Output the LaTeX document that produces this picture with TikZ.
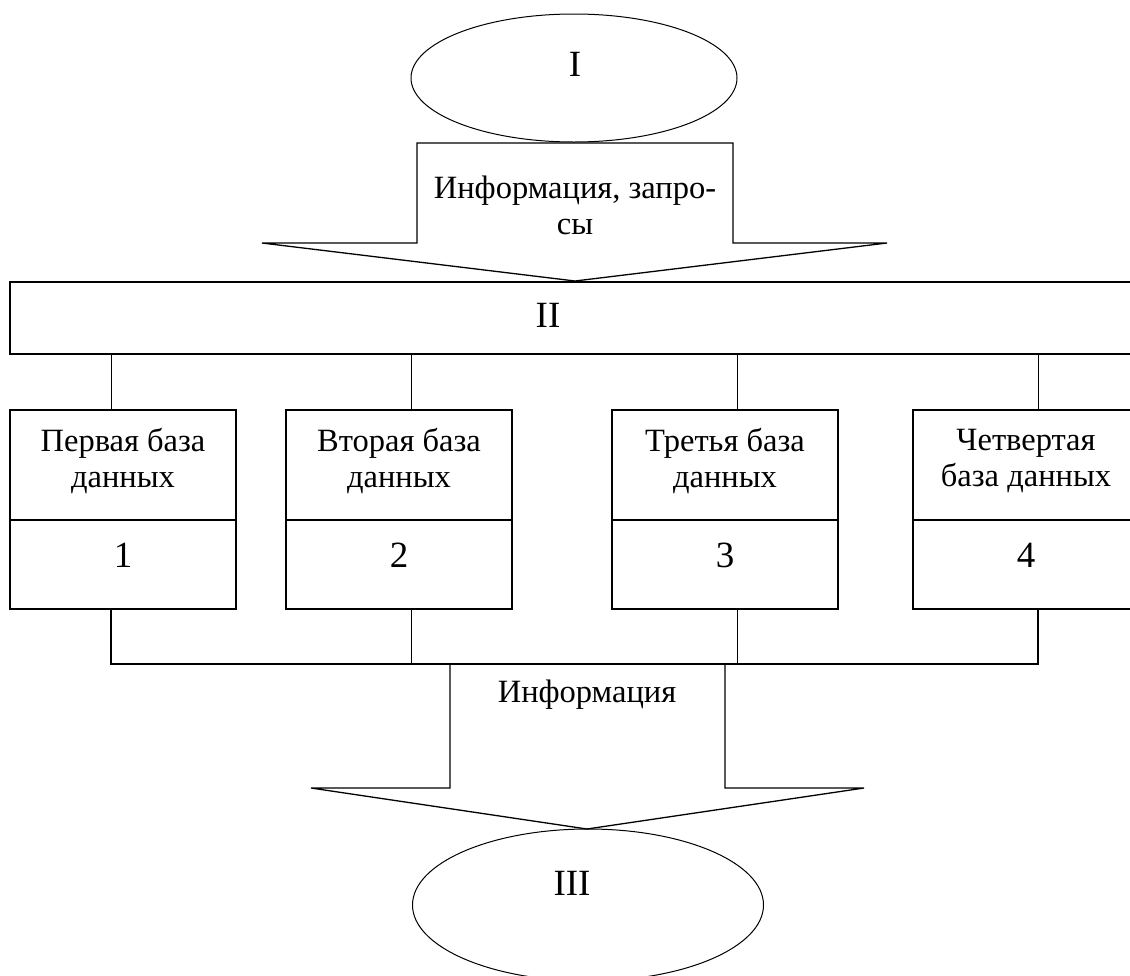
\documentclass[tikz,border=0pt]{standalone}
\usepackage{fontspec}
\setmainfont{Liberation Serif}
\usetikzlibrary{shapes.geometric}
\begin{document}
\begin{tikzpicture}[x=1pt,y=-1pt,line width=1.1pt,
  txt/.style={font=\fontsize{32.5}{36}\selectfont, align=center, inner sep=0pt},
  big/.style={font=\fontsize{37}{40}\selectfont, inner sep=0pt, anchor=base},
  oval/.style={draw, ellipse, inner sep=0pt, line width=1pt},
  boxline/.style={line width=1.6pt},
  arrowline/.style={line width=1.3pt},
  conn/.style={line width=1pt},
  dbtop/.style={draw, boxline, rectangle, minimum width=226pt, minimum height=110pt, inner sep=0pt},
  dbnum/.style={draw, boxline, rectangle, minimum width=226pt, minimum height=89pt, inner sep=0pt}]
\useasboundingbox (0,0) rectangle (1130,975);
\clip (0,0) rectangle (1130,975);
% I
\node[oval, minimum width=326pt, minimum height=128pt] (I) at (574,78) {};
\node[big] (tI) at (575,76) {I};
% top arrow
\coordinate (tip1) at (575,281);
\draw[arrowline, line join=miter] (417,143) -- (733,143) -- (733,243) -- (887,243) -- (tip1) -- (262,243) -- (417,243) -- cycle;
\node[txt] (info1) at (575,205) {Информация, запро-\\сы};
% II
\node[draw, boxline, rectangle, minimum width=1150pt, minimum height=72pt, inner sep=0pt] (II) at (585,318) {};
\node[big] (tII) at (548,327) {II};
% databases
\node[dbtop] (d1) at (123,465) {};
\node[dbnum] (n1) at (123,564.5) {};
\node[dbtop] (d2) at (399,465) {};
\node[dbnum] (n2) at (399,564.5) {};
\node[dbtop] (d3) at (725,465) {};
\node[dbnum] (n3) at (725,564.5) {};
\node[dbtop] (d4) at (1026,465) {};
\node[dbnum] (n4) at (1026,564.5) {};
\node[txt] (t1) at (123,461) {Первая база\\данных};
\node[txt] (t2) at (399,461) {Вторая база\\данных};
\node[txt] (t3) at (725,461) {Третья база\\данных};
\node[txt] (t4) at (1026,461) {Четвертая\\база данных};
\node[big] (k1) at (123,567) {1};
\node[big] (k2) at (399,567) {2};
\node[big] (k3) at (725,567) {3};
\node[big] (k4) at (1026,567) {4};
% connector x positions
\coordinate (c1) at (111,0);
\coordinate (c2) at (411,0);
\coordinate (c3) at (737,0);
\coordinate (c4) at (1038,0);
\coordinate (col) at (0,664);
\draw[conn] (II.south -| c1) -- (d1.north -| c1);
\draw[conn] (II.south -| c2) -- (d2.north -| c2);
\draw[conn] (II.south -| c3) -- (d3.north -| c3);
\draw[conn] (II.south -| c4) -- (d4.north -| c4);
\draw[conn, line width=1.3pt] (n1.south -| c1) -- (c1 |- col) -- (c4 |- col) -- (n4.south -| c4);
\draw[conn] (n2.south -| c2) -- (c2 |- col);
\draw[conn] (n3.south -| c3) -- (c3 |- col);
% bottom arrow
\coordinate (tip2) at (587,829);
\draw[arrowline, line join=miter] (450,664) -- (450,788) -- (311,788) -- (tip2) -- (864,788) -- (725,788) -- (725,664);
\node[txt] (info2) at (587,695) {Информация};
% III
\node[oval, minimum width=351pt, minimum height=152pt] (III) at (588,905) {};
\node[big] (tIII) at (572,895) {III};
\end{tikzpicture}
\end{document}
